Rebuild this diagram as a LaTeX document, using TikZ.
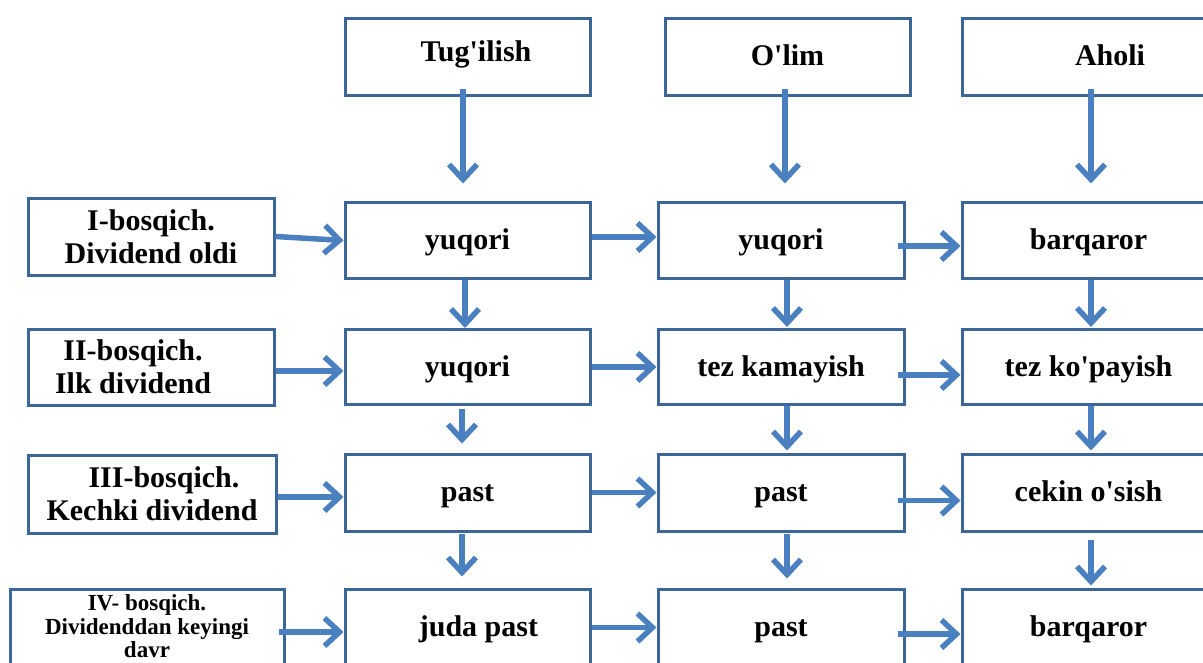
\documentclass[tikz,border=0pt]{standalone}
\usepackage{fontspec}
\setmainfont{Liberation Serif}[Ligatures=TeXOff]
\usetikzlibrary{arrows.meta}
\definecolor{boxc}{RGB}{60,102,152}
\definecolor{arrc}{RGB}{74,128,192}
\begin{document}
\begin{tikzpicture}[x=1pt,y=-1pt,
  box/.style={draw=boxc, line width=3pt, fill=white, inner sep=0pt, align=center,
    font=\bfseries\fontsize{30}{33}\selectfont},
  cell/.style={box, text height=23pt, text depth=5pt},
  smallbox/.style={box, font=\bfseries\fontsize{23}{23.5}\selectfont},
  arr/.style={draw=arrc, line width=5.5pt, -{Straight Barb[length=15pt,width=28pt]}}]
\useasboundingbox (0,0) rectangle (1203,662);
\clip (0,0) rectangle (1203,662);

% header boxes
\node[cell, minimum width=245pt, minimum height=77pt] (t1) at (467.5,56.5) {\hspace*{17pt}\raisebox{4pt}{Tug'ilish}};
\node[cell, minimum width=245pt, minimum height=77pt] (t2) at (787.5,56.5) {O'lim};
\node[cell, minimum width=296pt, minimum height=77pt] (t3) at (1110,56.5) {Aholi};

% stage boxes
\node[box, minimum width=246pt, minimum height=77pt] (L1) at (151,236.5) {I-bosqich.\\Dividend oldi};
\node[box, minimum width=246pt, minimum height=76pt] (L2) at (151,367) {II-bosqich.\hspace*{36pt}\\Ilk dividend\hspace*{36pt}};
\node[box, minimum width=248pt, minimum height=78pt] (L3) at (152,494) {\hspace*{24pt}III-bosqich.\\Kechki dividend};
\node[smallbox, minimum width=274pt, minimum height=78pt] (L4) at (147,628) {\raisebox{1.5pt}[\height][\depth]{\parbox{274pt}{\centering IV- bosqich.\\Dividenddan keyingi\\davr}}};

% row 1
\node[cell, minimum width=245pt, minimum height=76pt] (r1c1) at (467.5,240.5) {yuqori};
\node[cell, minimum width=246pt, minimum height=76pt] (r1c2) at (781,240.5) {yuqori};
\node[cell, minimum width=253pt, minimum height=76pt] (r1c3) at (1088.5,240.5) {barqaror};
% row 2
\node[cell, minimum width=245pt, minimum height=75pt] (r2c1) at (467.5,367) {yuqori};
\node[cell, minimum width=246pt, minimum height=75pt] (r2c2) at (781,367) {tez kamayish};
\node[cell, minimum width=253pt, minimum height=75pt] (r2c3) at (1088.5,367) {tez ko'payish};
% row 3
\node[cell, minimum width=245pt, minimum height=77pt] (r3c1) at (467.5,492.5) {past};
\node[cell, minimum width=246pt, minimum height=77pt] (r3c2) at (781,492.5) {past};
\node[cell, minimum width=253pt, minimum height=77pt] (r3c3) at (1088.5,492.5) {cekin o'sish};
% row 4
\node[cell, minimum width=245pt, minimum height=77pt] (r4c1) at (467.5,627.5) {\hspace*{22pt}juda past};
\node[cell, minimum width=246pt, minimum height=77pt] (r4c2) at (781,627.5) {past};
\node[cell, minimum width=253pt, minimum height=77pt] (r4c3) at (1088.5,627.5) {barqaror};

% vertical arrows from headers
\draw[arr, shorten <=-8pt, shorten >=17.5pt] ([xshift=-4.5pt]t1.south) -- ([xshift=-4.5pt]t1.south |- r1c1.north);
\draw[arr, shorten <=-8pt, shorten >=17.5pt] ([xshift=-2.5pt]t2.south) -- ([xshift=-2.5pt]t2.south |- r1c2.north);
\draw[arr, shorten <=-8pt, shorten >=17.5pt] ([xshift=-19pt]t3.south) -- ([xshift=-19pt]t3.south |- r1c3.north);

% vertical arrows row1 -> row2
\draw[arr] ([xshift=-2.5pt]r1c1.south) -- ([xshift=-2.5pt]r1c1.south |- r2c1.north);
\draw[arr, shorten >=1pt] ([xshift=6pt]r1c2.south) -- ([xshift=6pt]r1c2.south |- r2c2.north);
\draw[arr, shorten >=1pt] ([xshift=2.5pt]r1c3.south) -- ([xshift=2.5pt]r1c3.south |- r2c3.north);
% row2 -> row3
\draw[arr, shorten <=2.5pt, shorten >=9pt] ([xshift=-5.5pt]r2c1.south) -- ([xshift=-5.5pt]r2c1.south |- r3c1.north);
\draw[arr, shorten >=2pt] ([xshift=6pt]r2c2.south) -- ([xshift=6pt]r2c2.south |- r3c2.north);
\draw[arr, shorten >=2pt] ([xshift=2.5pt]r2c3.south) -- ([xshift=2.5pt]r2c3.south |- r3c3.north);
% row3 -> row4
\draw[arr, shorten <=1pt, shorten >=11pt] ([xshift=-5.5pt]r3c1.south) -- ([xshift=-5.5pt]r3c1.south |- r4c1.north);
\draw[arr, shorten <=1pt, shorten >=9pt] ([xshift=6pt]r3c2.south) -- ([xshift=6pt]r3c2.south |- r4c2.north);
\draw[arr, shorten <=7pt, shorten >=2pt] ([xshift=2.5pt]r3c3.south) -- ([xshift=2.5pt]r3c3.south |- r4c3.north);

% horizontal arrows: stages -> column 1
\draw[arr] (L1.east) -- (r1c1.west);
\draw[arr] ([yshift=-4pt]L2.east) -- ([yshift=-4pt]L2.east -| r2c1.west);
\draw[arr] ([yshift=-3pt]L3.east) -- ([yshift=-3pt]L3.east -| r3c1.west);
\draw[arr] ([xshift=-7pt,yshift=-4pt]L4.east) -- ([yshift=-4pt]L4.east -| r4c1.west);
% column 1 -> column 2
\draw[arr] ([yshift=3.5pt]r1c1.east) -- ([yshift=3.5pt]r1c1.east -| r1c2.west);
\draw[arr] (r2c1.east) -- (r2c2.west);
\draw[arr] (r3c1.east) -- (r3c2.west);
\draw[arr] (r4c1.east) -- (r4c2.west);
% column 2 -> column 3
\draw[arr] ([xshift=-8pt,yshift=-5.5pt]r1c2.east) -- ([yshift=-5.5pt]r1c2.east -| r1c3.west);
\draw[arr] ([xshift=-8pt,yshift=-8pt]r2c2.east) -- ([yshift=-8pt]r2c2.east -| r2c3.west);
\draw[arr] ([xshift=-8pt,yshift=-8pt]r3c2.east) -- ([yshift=-8pt]r3c2.east -| r3c3.west);
\draw[arr] ([xshift=-8pt,yshift=-6.5pt]r4c2.east) -- ([yshift=-6.5pt]r4c2.east -| r4c3.west);
\end{tikzpicture}
\end{document}
